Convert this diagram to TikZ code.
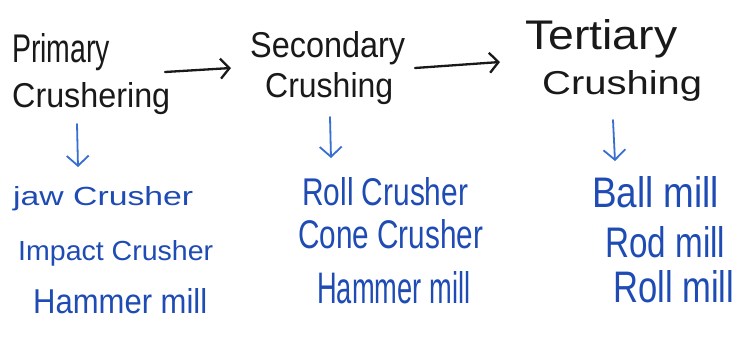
\documentclass[tikz,border=0pt]{standalone}
\usepackage{fontspec}
\setmainfont{Liberation Sans}
\usepackage{graphicx}
\usetikzlibrary{arrows.meta}
\definecolor{ink}{RGB}{25,25,25}
\definecolor{blueink}{RGB}{30,75,180}
\definecolor{arrowblue}{RGB}{55,110,210}
\newcommand\hwtext[3]{\resizebox{#1pt}{#2pt}{#3}}
\tikzset{
  head/.style={inner sep=0pt, anchor=base west, text=ink},
  item/.style={inner sep=0pt, anchor=base west, text=blueink},
  flowarrow/.style={draw=ink, line width=2.3pt, line cap=round, -{Straight Barb[length=9pt,width=20pt,line width=2.3pt]}},
  downarrow/.style={draw=arrowblue, line width=1.8pt, line cap=round, -{Straight Barb[length=10pt,width=22pt,line width=1.8pt]}}
}
\begin{document}
\begin{tikzpicture}[x=1pt,y=-1pt]
\useasboundingbox (0,0) rectangle (739,337);
\fill[white] (0,0) rectangle (739,337);

% headings
\node[head] (prim1) at (12,63) {\hwtext{98}{29}{Primary}};
\node[head] (prim2) at (12,108) {\hwtext{158}{25}{Crushering}};
\node[head] (sec1) at (250,58) {\hwtext{155}{26}{Secondary}};
\node[head] (sec2) at (265,98) {\hwtext{128}{25}{Crushing}};
\node[head] (ter1) at (525,50) {\hwtext{152}{30}{Tertiary}};
\node[head] (ter2) at (542,94) {\hwtext{160}{24}{Crushing}};

% flow arrows
\coordinate (a1s) at (165,72);
\coordinate (a1e) at (231,68);
\coordinate (a2s) at (415,68);
\coordinate (a2e) at (500,62);
\draw[flowarrow] (a1s) -- (a1e);
\draw[flowarrow] (a2s) -- (a2e);

% down arrows
\coordinate (d1s) at (77,124);
\coordinate (d1e) at (78,167);
\coordinate (d2s) at (330,117);
\coordinate (d2e) at (331,158);
\coordinate (d3s) at (613,120);
\coordinate (d3e) at (615,161);
\draw[downarrow] (d1s) -- (d1e);
\draw[downarrow] (d2s) -- (d2e);
\draw[downarrow] (d3s) -- (d3e);

% lists
\node[item] (c1a) at (13,205) {\hwtext{180}{19}{jaw Crusher}};
\node[item] (c1b) at (18,260) {\hwtext{195}{20}{Impact Crusher}};
\node[item] (c1c) at (33,313) {\hwtext{174}{25}{Hammer mill}};
\node[item] (c2a) at (302,205) {\hwtext{166}{28}{Roll Crusher}};
\node[item] (c2b) at (298,248) {\hwtext{185}{29}{Cone Crusher}};
\node[item] (c2c) at (317,303) {\hwtext{153}{32}{Hammer mill}};
\node[item] (c3a) at (592,207) {\hwtext{127}{31}{Ball mill}};
\node[item] (c3b) at (605,257) {\hwtext{120}{31}{Rod mill}};
\node[item] (c3c) at (613,302) {\hwtext{121}{32}{Roll mill}};
\end{tikzpicture}
\end{document}
